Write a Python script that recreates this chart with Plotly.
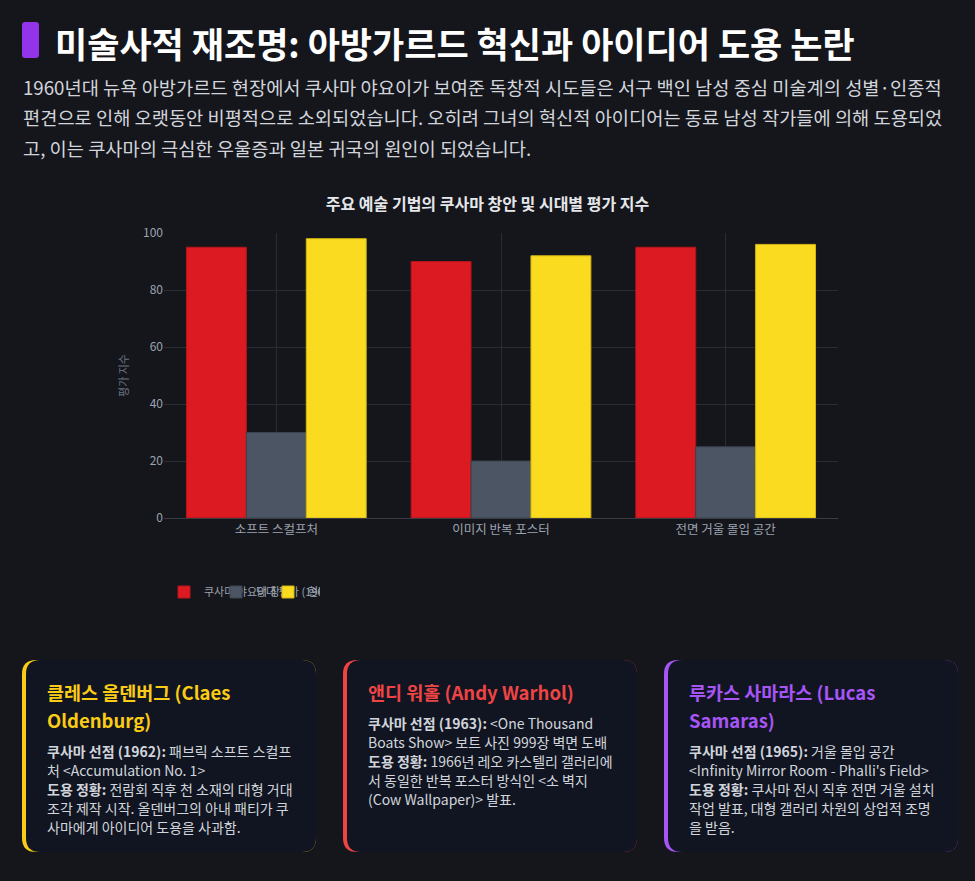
import plotly.graph_objects as go

# 차트 데이터
techniques = ["소프트 스컬프처", "이미지 반복 포스터", "전면 거울 몰입 공간"]
kusama_origin = [95, 90, 95]
contemporary_eval = [30, 20, 25]
modern_reeval = [98, 92, 96]
series_names = ["쿠사마 야요이 창안", "당대 평가 (1960년대)", "현대 재평가"]

title_text = "미술사적 재조명: 아방가르드 혁신과 아이디어 도용 논란"
subtitle_lines = [
    "1960년대 뉴욕 아방가르드 현장에서 쿠사마 야요이가 보여준 독창적 시도들은 서구 백인 남성 중심 미술계의 성별·인종적",
    "편견으로 인해 오랫동안 비평적으로 소외되었습니다. 오히려 그녀의 혁신적 아이디어는 동료 남성 작가들에 의해 도용되었",
    "고, 이는 쿠사마의 극심한 우울증과 일본 귀국의 원인이 되었습니다.",
]

card_titles = [
    ["클레스 올덴버그 (Claes", "Oldenburg)"],
    ["앤디 워홀 (Andy Warhol)"],
    ["루카스 사마라스 (Lucas", "Samaras)"],
]
card_bodies = [
    [
        "<b>쿠사마 선점 (1962):</b> 패브릭 소프트 스컬프",
        "처 &lt;Accumulation No. 1&gt;",
        "<b>도용 정황:</b> 전람회 직후 천 소재의 대형 거대",
        "조각 제작 시작. 올덴버그의 아내 패티가 쿠",
        "사마에게 아이디어 도용을 사과함.",
    ],
    [
        "<b>쿠사마 선점 (1963):</b> &lt;One Thousand",
        "Boats Show&gt; 보트 사진 999장 벽면 도배",
        "<b>도용 정황:</b> 1966년 레오 카스텔리 갤러리에",
        "서 동일한 반복 포스터 방식인 &lt;소 벽지",
        "(Cow Wallpaper)&gt; 발표.",
    ],
    [
        "<b>쿠사마 선점 (1965):</b> 거울 몰입 공간",
        "&lt;Infinity Mirror Room - Phalli's Field&gt;",
        "<b>도용 정황:</b> 쿠사마 전시 직후 전면 거울 설치",
        "작업 발표, 대형 갤러리 차원의 상업적 조명",
        "을 받음.",
    ],
]
card_colors = ["#facc15", "#ef4444", "#a855f7"]

BG = "#15161c"
CARD_BG = "#111522"
FONT = "Noto Sans CJK KR"

W, H = 975, 881
L, R, T, B = 164, 137, 233, 363
PW, PH = W - L - R, H - T - B


def px(x):
    return (x - L) / PW


def py(y):
    return 1 - (y - T) / PH


def rounded(x0, y0, x1, y1, r):
    pts = [
        f"M {px(x0 + r)} {py(y0)}",
        f"L {px(x1 - r)} {py(y0)}",
        f"Q {px(x1)} {py(y0)} {px(x1)} {py(y0 + r)}",
        f"L {px(x1)} {py(y1 - r)}",
        f"Q {px(x1)} {py(y1)} {px(x1 - r)} {py(y1)}",
        f"L {px(x0 + r)} {py(y1)}",
        f"Q {px(x0)} {py(y1)} {px(x0)} {py(y1 - r)}",
        f"L {px(x0)} {py(y0 + r)}",
        f"Q {px(x0)} {py(y0)} {px(x0 + r)} {py(y0)}",
        "Z",
    ]
    return " ".join(pts)


fig = go.Figure()
bar_colors = ["#dc1a22", "#4b5563", "#fadb1f"]
line_colors = ["#b5141b", "#3a424e", "#d4b514"]
for name, vals, c, lc in zip(series_names, [kusama_origin, contemporary_eval, modern_reeval], bar_colors, line_colors):
    fig.add_trace(go.Bar(
        x=techniques, y=vals, name=name,
        marker=dict(color=c, line=dict(color=lc, width=1)),
    ))

shapes = []
annotations = []

# 제목 막대
shapes.append(dict(type="path", xref="paper", yref="paper",
                   path=rounded(22, 22, 39, 58, 3), fillcolor="#9333ea", line=dict(width=0)))
annotations.append(dict(x=px(53), y=py(42), xref="paper", yref="paper", xanchor="left", yanchor="middle",
                        text=f"<b>{title_text}</b>", showarrow=False,
                        font=dict(family=FONT, size=35, color="#ffffff")))
for i, line in enumerate(subtitle_lines):
    annotations.append(dict(x=px(21), y=py(86 + i * 30.5), xref="paper", yref="paper",
                            xanchor="left", yanchor="middle", text=line, showarrow=False,
                            font=dict(family=FONT, size=18.7, color="#d1d5db")))

# 카드
card_x = [22, 343, 664]
card_w = 294
for k in range(3):
    x0 = card_x[k]
    x1 = x0 + card_w
    y0, y1 = 660, 852
    shapes.append(dict(type="path", xref="paper", yref="paper", layer="above",
                       path=rounded(x0, y0, x1, y1, 14), fillcolor=card_colors[k], line=dict(width=0)))
    shapes.append(dict(type="path", xref="paper", yref="paper", layer="above",
                       path=rounded(x0 + 4, y0, x1, y1, 14), fillcolor=CARD_BG, line=dict(width=0)))
    ty = 692
    for t in card_titles[k]:
        annotations.append(dict(x=px(x0 + 23), y=py(ty), xref="paper", yref="paper",
                                xanchor="left", yanchor="middle", text=f"<b>{t}</b>", showarrow=False,
                                font=dict(family=FONT, size=18.5, color=card_colors[k])))
        ty += 28
    by = ty + 3
    for line in card_bodies[k]:
        annotations.append(dict(x=px(x0 + 23), y=py(by), xref="paper", yref="paper",
                                xanchor="left", yanchor="middle", text=line, showarrow=False,
                                font=dict(family=FONT, size=14, color="#d1d5db")))
        by += 19

fig.update_layout(
    width=W, height=H,
    margin=dict(l=L, r=R, t=T, b=B),
    paper_bgcolor=BG, plot_bgcolor=BG,
    font=dict(family=FONT, color="#9ca3af", size=12),
    barmode="group", bargap=0.2, bargroupgap=0,
    title=dict(text="<b>주요 예술 기법의 쿠사마 창안 및 시대별 평가 지수</b>",
               x=0.5, xanchor="center", y=1 - 204 / H, yanchor="middle",
               font=dict(family=FONT, size=16, color="#e5e7eb")),
    xaxis=dict(showgrid=True, gridcolor="#2a2c33", linecolor="#3a3c44", showline=True,
               tickfont=dict(size=12.5, color="#9ca3af")),
    yaxis=dict(range=[0, 100], dtick=20, gridcolor="#2a2c33", zeroline=False,
               title=dict(text="평가 지수", font=dict(size=11, color="#6b7280"), standoff=12),
               tickfont=dict(size=12, color="#9ca3af")),
    legend=dict(orientation="h", x=0, xanchor="left", y=py(592), yanchor="middle",
                entrywidth=7, entrywidthmode="pixels",
                font=dict(size=11, color="#9ca3af"), bgcolor="rgba(0,0,0,0)"),
    shapes=shapes,
    annotations=annotations,
)

fig.write_html(
    "out.html",
    config={"displayModeBar": False},
    post_script="document.body.style.margin='0';document.body.style.background='#15161c';",
)
